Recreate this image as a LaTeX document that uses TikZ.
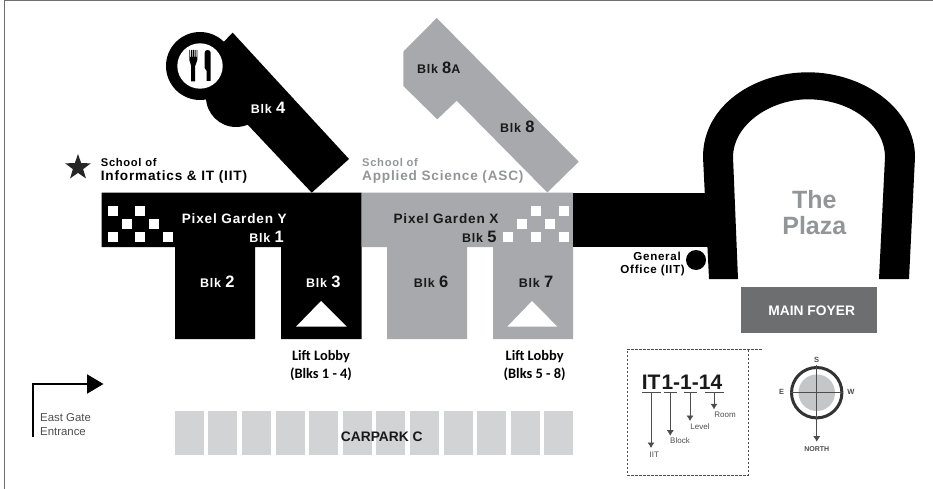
\documentclass[tikz,border=0pt]{standalone}
\usepackage{fontspec}
\setmainfont{Liberation Sans}
\newfontfamily\mapfont[LetterSpace=6]{Liberation Sans}
\newfontfamily\lobbyfont{Carlito}
\usetikzlibrary{arrows.meta,shapes.geometric}
\definecolor{blockgrey}{HTML}{A7A9AC}
\definecolor{baygrey}{HTML}{D1D3D4}
\definecolor{foyergrey}{HTML}{6D6E70}
\definecolor{plazagrey}{HTML}{939598}
\definecolor{legendgrey}{HTML}{4D4D4F}
\tikzset{>={Latex[length=5.5pt,width=7pt]}}
\tikzset{
  maplabel/.style={inner sep=0pt,font=\mapfont\bfseries\fontsize{13.6}{13.6}\selectfont},
  smalllabel/.style={inner sep=0pt,font=\mapfont\bfseries\fontsize{11.2}{11.2}\selectfont},
  lobbylabel/.style={inner sep=0pt,align=center,font=\lobbyfont\bfseries\fontsize{14.4}{18}\selectfont},
  keylabel/.style={inner sep=0pt,text=legendgrey,font=\fontsize{8}{8}\selectfont},
  compasslabel/.style={inner sep=0pt,text=legendgrey,font=\bfseries\fontsize{7.5}{7.5}\selectfont},
  bay/.style={fill=baygrey,draw=none},
  pixel/.style={fill=white,draw=none},
  keyarrow/.style={draw=legendgrey,line width=0.6pt,->}
}
\newcommand{\blklabel}[1]{{\fontsize{12.5}{12.5}\selectfont Blk }{\fontsize{16.5}{16.5}\selectfont #1}}

\begin{document}
\begin{tikzpicture}[x=1pt,y=-1pt]
        \useasboundingbox (0,0) rectangle (933,489);
        \draw[draw=foyergrey,line width=1pt] (4.5,489) -- (4.5,0.5) -- (933,0.5);

        \draw[fill=black,draw=none] (101.5,192.5) -- (361.5,192.5) -- (361.5,339) -- (281,339) -- (281,247) -- (255,247) -- (255,339) -- (175,339) -- (175,247) -- (101.5,247) --cycle;
        \draw[fill=blockgrey,draw=none] (361.5,192.5) -- (573,192.5) -- (573,339) -- (493,339) -- (493,247) -- (467,247) -- (467,339) -- (387,339) -- (387,247) -- (361.5,247) --cycle;
        \draw[fill=black,draw=none] (573,192.5) -- (710,192.5) -- (710,247) -- (573,247) --cycle;

        % Blk 4 and the canteen
        \draw[fill=black,draw=none] (232.7,32.7) -- (349,159) -- (311.7,192.7) -- (248,125) -- (208,102) -- (200,66) --cycle;
        \draw[fill=black,draw=none] (236,97) circle (30);
        \draw[fill=black,draw=none] (200,66) circle (34);
        \draw[fill=white,draw=none] (200,66) circle (22.7);
        \draw[fill=black,draw=none] (189.3,50) -- (190.2,50) -- (190.2,57) -- (191.1,57) -- (191.1,50) -- (192,50) -- (192,57) -- (192.9,57) -- (192.9,50) -- (193.8,50) -- (193.8,57) -- (194.7,57) -- (194.7,50) -- (195.6,50) -- (195.6,57) -- (196.5,57) -- (196.5,50) -- (197.3,50) -- (197.3,60) -- (195.2,66) -- (195.2,81.5) -- (191.2,81.5) -- (191.2,66) -- (189.3,60) --cycle;
        \draw[fill=black,draw=none] (207.5,50) .. controls (209.5,50) and (210.7,51) .. (210.7,53) -- (210.7,81) -- (206.7,81) -- (206.7,71) -- (204.7,68) -- (204.7,53) .. controls (204.7,51) and (205.5,50) .. (207.5,50) --cycle;

        % Blk 8 and 8A
        \draw[fill=blockgrey,draw=none] (436.7,18) -- (403.3,51.7) -- (403.3,86) -- (437.3,119.3) -- (456.7,100.7) -- (547.3,192.5) -- (578.7,161.7) --cycle;

        % The Plaza arch
        \draw[fill=black,draw=none] (709,279) -- (703,157) .. controls (703,105) and (755,72.3) .. (808,72.3) .. controls (865,72.3) and (915,110) .. (915,157) -- (909,279) -- (879,279) -- (885,157) .. controls (885,125) and (850,99.3) .. (808,99.3) .. controls (770,99.3) and (733,125) .. (733,157) -- (738,279) --cycle;
        \draw[fill=foyergrey,draw=none] (741,287) rectangle (877,333);
        \draw[fill=black,draw=none] (696,260) circle (10);

        % pixel gardens
        \draw[pixel] (107.7,205.7) rectangle +(10,10);
        \draw[pixel] (135.3,205.7) rectangle +(10,10);
        \draw[pixel] (121.7,219) rectangle +(10,10);
        \draw[pixel] (149,219) rectangle +(10,10);
        \draw[pixel] (107.7,232.3) rectangle +(10,10);
        \draw[pixel] (135.3,232.3) rectangle +(10,10);
        \draw[pixel] (162.7,232.3) rectangle +(10,10);
        \draw[pixel] (530.7,205.7) rectangle +(10,10);
        \draw[pixel] (558.7,205.7) rectangle +(10,10);
        \draw[pixel] (517.3,219) rectangle +(10,10);
        \draw[pixel] (544.7,219) rectangle +(10,10);
        \draw[pixel] (503.3,232.3) rectangle +(10,10);
        \draw[pixel] (530.7,232.3) rectangle +(10,10);
        \draw[pixel] (558.7,232.3) rectangle +(10,10);

        % lift lobbies
        \draw[pixel] (321,301) -- (346.7,326.7) -- (296,326.7) --cycle;
        \draw[pixel] (532,301) -- (557.3,326.7) -- (507.3,326.7) --cycle;

        % carpark
        \draw[bay] (174.7,410.7) rectangle +(29,44.5);
        \draw[bay] (208.3,410.7) rectangle +(29,44.5);
        \draw[bay] (241.9,410.7) rectangle +(29,44.5);
        \draw[bay] (275.5,410.7) rectangle +(29,44.5);
        \draw[bay] (309.1,410.7) rectangle +(29,44.5);
        \draw[bay] (342.7,410.7) rectangle +(29,44.5);
        \draw[bay] (376.3,410.7) rectangle +(29,44.5);
        \draw[bay] (409.9,410.7) rectangle +(29,44.5);
        \draw[bay] (443.5,410.7) rectangle +(29,44.5);
        \draw[bay] (477.1,410.7) rectangle +(29,44.5);
        \draw[bay] (510.7,410.7) rectangle +(29,44.5);
        \draw[bay] (544.3,410.7) rectangle +(29,44.5);
        \node[inner sep=0pt,anchor=west,font=\bfseries\fontsize{13.8}{13.8}\selectfont,text=black!90] (carpark) at (340.7,436.7) {CARPARK C};

        \node[star,star points=5,star point ratio=2.5,fill=black!85,inner sep=0pt,minimum size=27pt] (iitstar) at (78,167.5) {};
        \node[smalllabel,anchor=west] (iitschool) at (100.7,162.3) {School of};
        \node[maplabel,anchor=west] (iitname) at (100.7,177.3) {Informatics \& IT (IIT)};
        \node[smalllabel,anchor=west,text=plazagrey] (ascschool) at (362,162.3) {School of};
        \node[maplabel,anchor=west,text=plazagrey] (ascname) at (362,177.3) {Applied Science (ASC)};

        \node[maplabel,text=white] (blkfour) at (268,107.7) {\blklabel{4}};
        \node[maplabel,text=black!90] (blkeighta) at (438.7,68.3) {\blklabel{8{\fontsize{12.5}{12.5}\selectfont A}}};
        \node[maplabel,text=black!90] (blkeight) at (517.3,126.7) {\blklabel{8}};
        \node[maplabel,text=white] (gardeny) at (234.3,219) {Pixel Garden Y};
        \node[maplabel,text=white,anchor=east] (blkone) at (284,237.3) {\blklabel{1}};
        \node[maplabel,text=black!90] (gardenx) at (446,218.3) {Pixel Garden X};
        \node[maplabel,text=black!90,anchor=east] (blkfive) at (496.7,237) {\blklabel{5}};
        \node[maplabel,text=white] (blktwo) at (217.3,282) {\blklabel{2}};
        \node[maplabel,text=white] (blkthree) at (323.3,282) {\blklabel{3}};
        \node[maplabel,text=black!90] (blksix) at (431,282) {\blklabel{6}};
        \node[maplabel,text=black!90] (blkseven) at (536,282) {\blklabel{7}};

        \node[lobbylabel] (lobbyy) at (321,366) {Lift Lobby\\(Blks 1 - 4)};
        \node[lobbylabel] (lobbyx) at (534.6,366) {Lift Lobby\\(Blks 5 - 8)};

        \node[smalllabel,anchor=east,font=\mapfont\bfseries\fontsize{11.6}{11.6}\selectfont] (office) at (681,256.7) {General};
        \node[smalllabel,anchor=east,font=\mapfont\bfseries\fontsize{11.6}{11.6}\selectfont] (officeiit) at (685,270.7) {Office (IIT)};
        \node[inner sep=0pt,text=plazagrey,font=\bfseries\fontsize{25}{25}\selectfont] (plazathe) at (814.3,200) {The};
        \node[inner sep=0pt,text=plazagrey,font=\bfseries\fontsize{25}{25}\selectfont] (plazaname) at (814.3,225.7) {Plaza};
        \node[inner sep=0pt,text=white,font=\bfseries\fontsize{13.8}{13.8}\selectfont] (foyer) at (811.7,310.7) {MAIN FOYER};

        % east gate
        \coordinate (gatestart) at (32.5,437);
        \coordinate (gatecorner) at (32.5,384);
        \coordinate (gateend) at (103.5,384);
        \draw[line width=2pt,-{Triangle[length=16.5pt,width=19pt]}] (gatestart) -- (gatecorner) -- (gateend);
        \node[inner sep=0pt,anchor=west,text=legendgrey,font=\fontsize{11.4}{11.4}\selectfont] (gatename) at (40,417.7) {East Gate};
        \node[inner sep=0pt,anchor=west,text=legendgrey,font=\fontsize{11.4}{11.4}\selectfont] (gatename2) at (40,431.7) {Entrance};

        % room number key
        \draw[draw=legendgrey,line width=0.5pt,dash pattern=on 2.5pt off 1.5pt] (761.7,349.3) -- (627.3,349.3) -- (627.3,475) -- (748.3,475) -- (748.3,349.3);
        \node[inner sep=0pt,anchor=base west,text=black!90,font=\bfseries\fontsize{21}{21}\selectfont] (roomcode) at (641.7,389) {IT\kern1pt 1-1-14};
        \draw[draw=legendgrey,line width=0.5pt] (642.3,391.5) -- (642.3,392.5) -- (660,392.5) -- (660,391.5);
        \draw[draw=legendgrey,line width=0.5pt] (664.3,391.5) -- (664.3,392.5) -- (676.7,392.5) -- (676.7,391.5);
        \draw[draw=legendgrey,line width=0.5pt] (684,391.5) -- (684,392.5) -- (696.7,392.5) -- (696.7,391.5);
        \draw[draw=legendgrey,line width=0.5pt] (705,391.5) -- (705,392.5) -- (723.3,392.5) -- (723.3,391.5);
        \coordinate (itfrom) at (651,392.5);
        \coordinate (itto) at (651,448);
        \coordinate (blockfrom) at (670.3,392.5);
        \coordinate (blockto) at (670.3,435.7);
        \coordinate (levelfrom) at (690,392.5);
        \coordinate (levelto) at (690,421);
        \coordinate (roomfrom) at (714,392.5);
        \coordinate (roomto) at (714,409.3);
        \draw[keyarrow] (itfrom) -- (itto);
        \draw[keyarrow] (blockfrom) -- (blockto);
        \draw[keyarrow] (levelfrom) -- (levelto);
        \draw[keyarrow] (roomfrom) -- (roomto);
        \node[keylabel] (keyiit) at (654.3,454.3) {IIT};
        \node[keylabel] (keyblock) at (680,441) {Block};
        \node[keylabel] (keylevel) at (700,426.3) {Level};
        \node[keylabel] (keyroom) at (725,414.3) {Room};

        % compass
        \draw[fill=baygrey!70!blockgrey,draw=none] (816.7,392.7) circle (18.3);
        \draw[draw=black!80,line width=3pt] (816.7,392.7) circle (25.2);
        \coordinate (needletop) at (816.7,365);
        \coordinate (needletip) at (816.7,441.7);
        \coordinate (barwest) at (790,392.7);
        \coordinate (bareast) at (843.4,392.7);
        \draw[keyarrow,line width=0.7pt] (needletop) -- (needletip);
        \draw[draw=legendgrey,line width=0.7pt] (barwest) -- (bareast);
        \node[compasslabel] (compasss) at (816.7,360) {S};
        \node[compasslabel] (compasse) at (781.7,392) {E};
        \node[compasslabel] (compassw) at (851,392) {W};
        \node[compasslabel,font=\bfseries\fontsize{7}{7}\selectfont] (compassn) at (816.7,449.3) {NORTH};
\end{tikzpicture}
\end{document}
